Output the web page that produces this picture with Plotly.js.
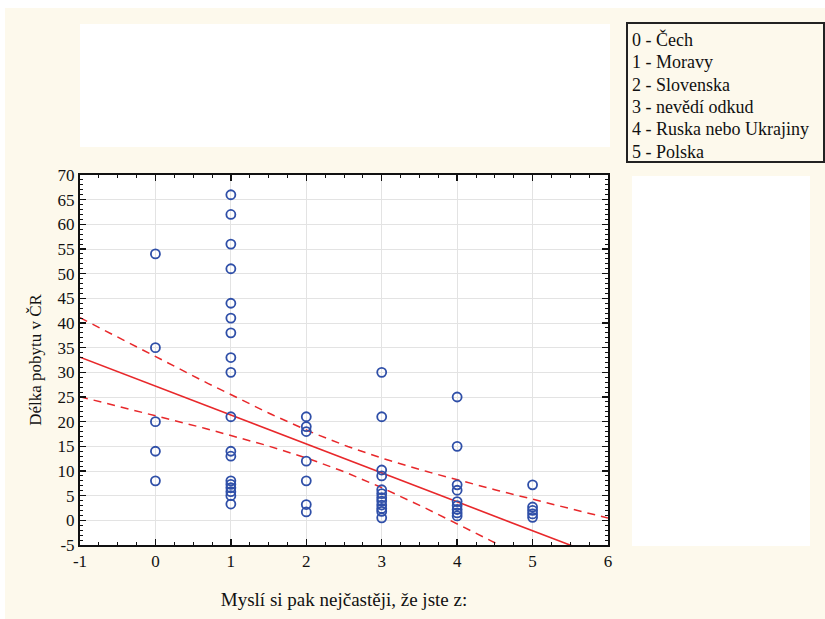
<!DOCTYPE html>
<html>
<head>
<meta charset="utf-8">
<script src="https://cdn.plot.ly/plotly-3.0.1.min.js"></script>
<style>
html,body{margin:0;padding:0;background:#ffffff;}
#chart{width:825px;height:619px;}
</style>
</head>
<body>
<div id="chart"></div>
<script>
const xCat0 = [0, 0, 0, 0, 0];
const yCat0 = [54, 35, 20, 14, 8];
const xCat1 = [1, 1, 1, 1, 1, 1, 1, 1, 1, 1, 1, 1, 1, 1, 1, 1, 1, 1];
const yCat1 = [66, 62, 56, 51, 44, 41, 38, 33, 30, 21, 14, 13, 8, 7.3, 6.6, 5.8, 5, 3.3];
const xCat2 = [2, 2, 2, 2, 2, 2, 2];
const yCat2 = [21, 19, 18, 12, 8, 3.2, 1.7];
const xCat3 = [3, 3, 3, 3, 3, 3, 3, 3, 3, 3, 3, 3];
const yCat3 = [30, 21, 10.2, 9, 6.2, 5.4, 4.6, 3.9, 3.1, 2.4, 1.8, 0.5];
const xCat4 = [4, 4, 4, 4, 4, 4, 4, 4, 4];
const yCat4 = [25, 15, 7.2, 6.1, 3.8, 3, 2.2, 1.5, 0.9];
const xCat5 = [5, 5, 5, 5, 5];
const yCat5 = [7.2, 2.7, 2, 1.3, 0.6];

// Regression line and 95% confidence band, parameters
const fitIntercept = 27.2;
const fitSlope = -5.86;
const bandBase = 7.23;     // squared half-width at the mean of x
const bandCurv = 4.91;     // growth of squared half-width with distance
const bandCenter = 2.40;   // mean of x

// Tick labels
const xTicks = [-1, 0, 1, 2, 3, 4, 5, 6];
const yTicks = [-5, 0, 5, 10, 15, 20, 25, 30, 35, 40, 45, 50, 55, 60, 65, 70];

const legendLines = ["0 - Čech", "1 - Moravy", "2 - Slovenska", "3 - nevědí odkud", "4 - Ruska nebo Ukrajiny", "5 - Polska"];

const xs = [].concat(xCat0, xCat1, xCat2, xCat3, xCat4, xCat5);
const ys = [].concat(yCat0, yCat1, yCat2, yCat3, yCat4, yCat5);

const gx = [], gFit = [], gUp = [], gLo = [];
for (let i = 0; i <= 140; i++) {
  const x = -1 + i * 0.05;
  const f = fitIntercept + fitSlope * x;
  const w = Math.sqrt(bandBase + bandCurv * (x - bandCenter) * (x - bandCenter));
  gx.push(x); gFit.push(f); gUp.push(f + w); gLo.push(f - w);
}

const red = '#e8282b';
const serif = '"Liberation Serif"';

const traces = [
  {x: gx, y: gUp, mode: 'lines', line: {color: red, width: 1.5, dash: '8px,6px'}, hoverinfo: 'skip'},
  {x: gx, y: gLo, mode: 'lines', line: {color: red, width: 1.5, dash: '8px,6px'}, hoverinfo: 'skip'},
  {x: gx, y: gFit, mode: 'lines', line: {color: red, width: 1.6}, hoverinfo: 'skip'},
  {x: xs, y: ys, mode: 'markers', cliponaxis: false,
   marker: {symbol: 'circle-open', size: 9, color: '#2f4fa8', line: {width: 1.8, color: '#2f4fa8'}}}
];

// pixel -> paper helpers (plot area: x 80..608, y 175..545)
const L = 80, R = 608, T = 175, B = 545;
const px = v => (v - L) / (R - L);
const py = v => (B - v) / (B - T);

const shapes = [
  {type: 'rect', xref: 'paper', yref: 'paper', x0: px(0), x1: px(825), y0: py(0), y1: py(8), fillcolor: '#ffffff', line: {width: 0}, layer: 'below'},
  {type: 'rect', xref: 'paper', yref: 'paper', x0: px(0), x1: px(5), y0: py(0), y1: py(619), fillcolor: '#ffffff', line: {width: 0}, layer: 'below'},
  {type: 'rect', xref: 'paper', yref: 'paper', x0: px(80), x1: px(610), y0: py(24), y1: py(147), fillcolor: '#ffffff', line: {width: 0}, layer: 'below'},
  {type: 'rect', xref: 'paper', yref: 'paper', x0: px(632), x1: px(810), y0: py(176), y1: py(546), fillcolor: '#ffffff', line: {width: 0}, layer: 'below'},
  {type: 'rect', xref: 'paper', yref: 'paper', x0: px(627), x1: px(824), y0: py(23), y1: py(162), fillcolor: '#fdf9ec', line: {width: 2, color: '#222222'}, layer: 'below'}
];

const annotations = legendLines.map((t, i) => ({
  text: t, xref: 'paper', yref: 'paper', x: px(630), y: py(40 + i * 22.3),
  xanchor: 'left', yanchor: 'middle', showarrow: false,
  font: {family: serif, size: 18, color: '#111111'}
}));

const layout = {
  width: 825, height: 619,
  margin: {l: L, r: 825 - R, t: T, b: 619 - B, pad: 0},
  paper_bgcolor: '#fdf9ec',
  plot_bgcolor: '#ffffff',
  showlegend: false,
  font: {family: serif, size: 17, color: '#111111'},
  xaxis: {
    range: [-1, 6], tickvals: xTicks, ticktext: xTicks.map(String),
    showgrid: true, gridcolor: '#e3e3e3', gridwidth: 1, zeroline: false,
    showline: true, linecolor: '#111111', linewidth: 2, mirror: 'ticks',
    ticks: 'inside', ticklen: 6, tickwidth: 1.5, tickcolor: '#111111',
    minor: {dtick: 0.25, ticks: 'inside', ticklen: 3, tickwidth: 1, tickcolor: '#111111', showgrid: false},
    tickfont: {family: serif, size: 17},
    title: {text: 'Myslí si pak nejčastěji, že jste z:', font: {family: serif, size: 19}, standoff: 22},
    automargin: false
  },
  yaxis: {
    range: [-5, 70], tickvals: yTicks, ticktext: yTicks.map(String),
    showgrid: true, gridcolor: '#e3e3e3', gridwidth: 1, zeroline: false,
    showline: true, linecolor: '#111111', linewidth: 2, mirror: 'ticks',
    ticks: 'inside', ticklen: 6, tickwidth: 1.5, tickcolor: '#111111',
    minor: {dtick: 1, ticks: 'inside', ticklen: 3, tickwidth: 1, tickcolor: '#111111', showgrid: false},
    tickfont: {family: serif, size: 17},
    title: {text: 'Délka pobytu v ČR', font: {family: serif, size: 17}, standoff: 12},
    automargin: false
  },
  shapes: shapes,
  annotations: annotations
};

Plotly.newPlot('chart', traces, layout, {displayModeBar: false, staticPlot: true});
</script>
</body>
</html>
